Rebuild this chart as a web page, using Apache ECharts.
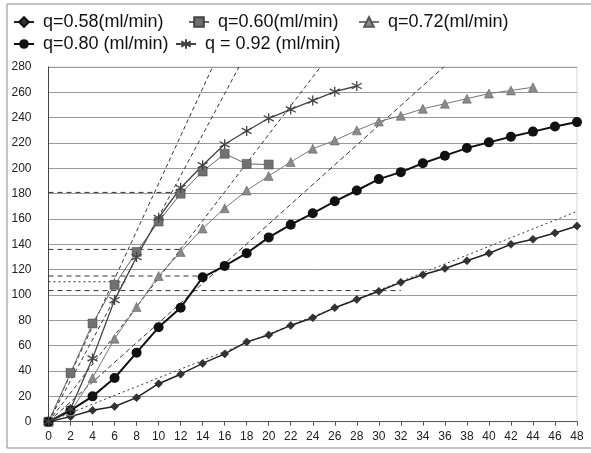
<!DOCTYPE html>
<html>
<head>
<meta charset="utf-8">
<script src="https://cdn.jsdelivr.net/npm/echarts@6/dist/echarts.min.js"></script>
<style>
html,body{margin:0;padding:0;background:#fff;}
#chart{width:591px;height:453px;}
</style>
</head>
<body>
<div id="chart"></div>
<script>
// ---- data ----
const seriesNames = ['q=0.58(ml/min)', 'q=0.60(ml/min)', 'q=0.72(ml/min)', 'q=0.80 (ml/min)', 'q = 0.92 (ml/min)'];
const xTicks = [0,2,4,6,8,10,12,14,16,18,20,22,24,26,28,30,32,34,36,38,40,42,44,46,48];
const q058 = [0,4,9,12,19,30,37.5,46,53.5,63,68.5,76,82,90,96.5,103,110,116,121,127,133,140,144,149,154.5];
const q060 = [0,38.5,77.5,108,134,158,180,197.5,211.5,203.5,203];
const q072 = [0,8,34.5,65.5,90.5,115,134,152.5,168.5,182.5,194,205,215.5,222,230,237,241.5,247,251,255,259,261.5,264];
const q080 = [0,9,20,34.5,54.5,74.5,90,114,123,133,145.5,155.5,164.5,174,182.5,191.5,197,204,210,216,220.5,225,229,233,236.5];
const q092 = [0,10,50,96,130,161,184.5,202.5,219,229.5,239.5,246.5,253.5,260.5,265];
// tangent lines from origin [x, y] endpoints
const tan060 = [[0,0],[14.9,280]];
const tan092 = [[0,0],[17.3,280]];
const tan072 = [[0,0],[24.7,280]];
const tan080 = [[0,0],[35.9,280]];
const tan058 = [[0,0],[48,166]];
// horizontal reference lines: [level, end x]
const refLevels = [181, 136, 115, 110.5, 103.5];
const refEnds = [12, 12, 14, 7, 32];

function pairs(ys){ return ys.map((y,i)=>[xTicks[i], y]); }

const FONT = '"Liberation Sans", Arial, sans-serif';
const star = 'path://M5,0 L5,10 M0,2.2 L10,7.8 M0,7.8 L10,2.2';

function helper(data, type, width){
  return {type:'line', data:data, symbol:'none', silent:true, z:1,
    lineStyle:{color:'#333', width:width||1, type:type}};
}

const series = [
  helper(tan060,[4,3]), helper(tan092,[4,3]), helper(tan072,[4,3]), helper(tan080,[5,3]),
  helper(tan058,[2,3]),
];
refLevels.forEach((lv,i)=>{
  series.push(helper([[0,lv],[refEnds[i],lv]], i===3?[2,3]:[5,4]));
});
series.push(
  {name:seriesNames[0], type:'line', data:pairs(q058), symbol:'diamond', symbolSize:8, z:3,
   lineStyle:{color:'#222', width:1.5}, itemStyle:{color:'#333', borderColor:'#111', borderWidth:0.5}},
  {name:seriesNames[1], type:'line', data:pairs(q060), symbol:'rect', symbolSize:9, z:3,
   lineStyle:{color:'#666', width:1}, itemStyle:{color:'#707070', borderColor:'#444', borderWidth:0.5}},
  {name:seriesNames[2], type:'line', data:pairs(q072), symbol:'triangle', symbolSize:9, z:3,
   lineStyle:{color:'#777', width:1}, itemStyle:{color:'#8a8a8a', borderColor:'#555', borderWidth:0.5}},
  {name:seriesNames[3], type:'line', data:pairs(q080), symbol:'circle', symbolSize:10, z:3,
   lineStyle:{color:'#111', width:2}, itemStyle:{color:'#111'}},
  {name:seriesNames[4], type:'line', data:pairs(q092), symbol:star, symbolSize:10, z:3,
   lineStyle:{color:'#444', width:1.3}, itemStyle:{color:'none', borderColor:'#444', borderWidth:1.3}}
);

function leg(name, left, top){
  return {data:[name], left:left, top:top, itemWidth:20, itemHeight:12, itemGap:0, padding:0,
    textStyle:{fontFamily:FONT, fontSize:18, color:'#111', padding:[0,0,0,4]}, selectedMode:false};
}

const chart = echarts.init(document.getElementById('chart'), null, {renderer:'canvas'});
chart.setOption({
  animation:false,
  backgroundColor:'#fff',
  graphic:[{type:'rect', shape:{x:7, y:4, width:620, height:444},
    style:{fill:'none', stroke:'#888', lineWidth:1}, silent:true}],
  legend:[
    leg(seriesNames[0], 13, 13),
    leg(seriesNames[1], 188, 13),
    leg(seriesNames[2], 358, 13),
    leg(seriesNames[3], 13, 35),
    leg(seriesNames[4], 175, 35)
  ],
  grid:{left:48.5, right:14, top:67, bottom:31.3, show:true, borderColor:'#aaa', borderType:'dotted', borderWidth:1},
  xAxis:{type:'value', min:0, max:48, interval:2,
    axisLine:{lineStyle:{color:'#555', width:1}},
    axisTick:{show:true, length:4, lineStyle:{color:'#555'}},
    axisLabel:{fontFamily:FONT, fontSize:12, color:'#222', margin:9},
    splitLine:{show:false}},
  yAxis:{type:'value', min:0, max:280, interval:20,
    axisLine:{show:true, lineStyle:{color:'#444', width:1}},
    axisTick:{show:false},
    axisLabel:{fontFamily:FONT, fontSize:12, color:'#222', margin:17},
    splitLine:{show:true, lineStyle:{color:'#999', width:1}}},
  series:series
});
</script>
</body>
</html>
